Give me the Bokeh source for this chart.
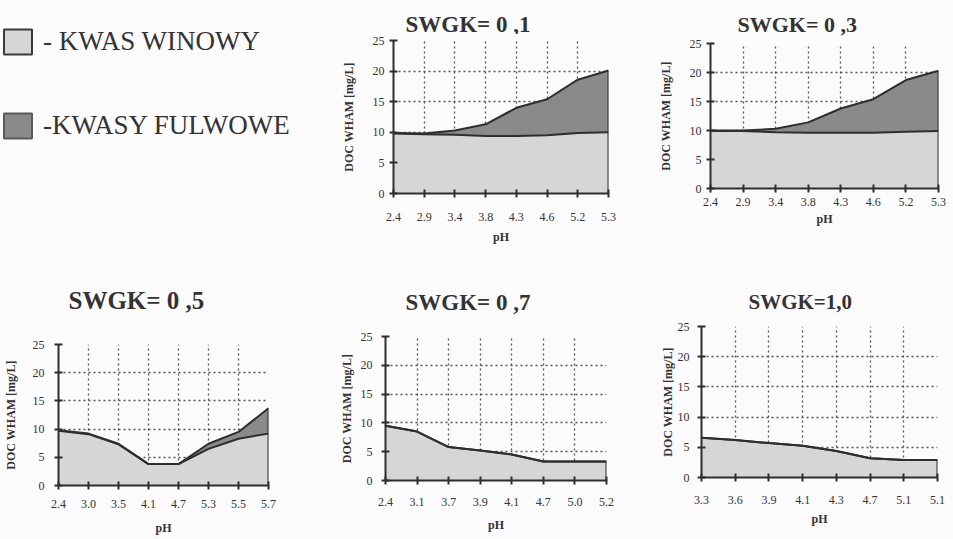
from bokeh.plotting import figure
from bokeh.models import Range1d, FixedTicker, Legend, LegendItem, ColumnDataSource, Label
from bokeh.layouts import row, column
from bokeh.embed import file_html
from bokeh.resources import INLINE

# ---------------- data ----------------
series_names = ["- KWAS WINOWY", "-KWASY FULWOWE"]

titles = ["SWGK= 0 ,1", "SWGK= 0 ,3", "SWGK= 0 ,5", "SWGK= 0 ,7", "SWGK=1,0"]

ph_01 = ["2.4", "2.9", "3.4", "3.8", "4.3", "4.6", "5.2", "5.3"]
winowy_01 = [9.8, 9.7, 9.6, 9.4, 9.4, 9.5, 9.9, 10.0]
fulwowe_01 = [0.1, 0.1, 0.7, 1.9, 4.6, 5.9, 8.7, 10.1]

ph_03 = ["2.4", "2.9", "3.4", "3.8", "4.3", "4.6", "5.2", "5.3"]
winowy_03 = [9.9, 9.9, 9.7, 9.6, 9.6, 9.6, 9.8, 9.9]
fulwowe_03 = [0.1, 0.1, 0.6, 1.8, 4.2, 5.8, 8.9, 10.4]

ph_05 = ["2.4", "3.0", "3.5", "4.1", "4.7", "5.3", "5.5", "5.7"]
winowy_05 = [9.7, 9.1, 7.3, 3.8, 3.8, 6.5, 8.3, 9.2]
fulwowe_05 = [0.1, 0.1, 0.1, 0.0, 0.0, 0.9, 1.2, 4.5]

ph_07 = ["2.4", "3.1", "3.7", "3.9", "4.1", "4.7", "5.0", "5.2"]
winowy_07 = [9.5, 8.5, 5.8, 5.2, 4.5, 3.3, 3.3, 3.3]
fulwowe_07 = [0.0, 0.0, 0.0, 0.0, 0.0, 0.0, 0.0, 0.0]

ph_10 = ["3.3", "3.6", "3.9", "4.1", "4.3", "4.7", "5.1", "5.1"]
winowy_10 = [6.6, 6.2, 5.7, 5.25, 4.4, 3.2, 2.9, 2.9]
fulwowe_10 = [0.0, 0.0, 0.0, 0.0, 0.0, 0.0, 0.0, 0.0]

y_ticks = [0, 5, 10, 15, 20, 25]
y_label = "DOC WHAM [mg/L]"
x_label = "pH"

# ---------------- style ----------------
BG = "#fbfbfb"
LIGHT = "#d6d6d6"
DARK = "#8a8a8a"
INK = "#2e2e2e"
TXT = "#333333"
SERIF = "Liberation Serif"
GAP = 6  # border kept above each chart frame


def base_fig(w, h, xr, yr, bl, br, bt, bb, axes=True):
    kw = {}
    if not axes:
        kw = dict(x_axis_location=None, y_axis_location=None)
    p = figure(width=w, height=h, x_range=xr, y_range=yr, title=None,
               min_border_left=bl, min_border_right=br, min_border_top=bt,
               min_border_bottom=bb, output_backend="svg", toolbar_location=None,
               background_fill_color=BG, border_fill_color=BG, **kw)
    p.outline_line_color = None
    if not axes:
        p.grid.visible = False
    return p


def make_title(title, n, w, th, bl, br, t_off, t_base, t_size):
    p = base_fig(w, th, Range1d(0, n - 1), Range1d(0, 1), bl, br, 0, 0, axes=False)
    p.add_layout(Label(x=0, y=0, x_offset=t_off, y_offset=th - t_base,
                       text=title, text_font=SERIF, text_font_size=t_size,
                       text_font_style="bold", text_color=TXT,
                       text_align="left", text_baseline="alphabetic"))
    return p


def make_chart(title, labels, win, ful, w, h, bl, br, bt, bb,
               t_off, t_base, t_size, lab_stand, xl_stand, ylab_stand, yl_stand):
    n = len(labels)
    xs = list(range(n))
    th = bt - GAP
    tp = make_title(title, n, w, th, bl, br, t_off, t_base, t_size)
    p = base_fig(w, h - th, Range1d(0, n - 1), Range1d(0, 25), bl, br, GAP, bb)

    src = ColumnDataSource(dict(x=xs, win=win, ful=ful))
    p.varea_stack(["win", "ful"], x="x", color=[LIGHT, DARK], source=src)
    p.vline_stack(["win", "ful"], x="x", color=INK, line_width=2, source=src)
    tops = [a + b for a, b in zip(win, ful)]
    edge = ColumnDataSource(dict(x0=[xs[-1]], y0=[0], y1=[tops[-1]]))
    p.segment(x0="x0", y0="y0", x1="x0", y1="y1", source=edge, color=INK, line_width=2)

    p.xaxis.ticker = FixedTicker(ticks=xs)
    p.xaxis.major_label_overrides = {i: lab for i, lab in enumerate(labels)}
    p.yaxis.ticker = FixedTicker(ticks=y_ticks)
    p.xaxis.axis_label = x_label
    p.yaxis.axis_label = y_label

    for ax in (p.xaxis, p.yaxis):
        ax.axis_line_color = INK
        ax.axis_line_width = 2
        ax.major_tick_line_color = INK
        ax.major_tick_line_width = 2
        ax.major_tick_in = 4
        ax.major_tick_out = 4
        ax.minor_tick_line_color = None
        ax.major_label_text_font = SERIF
        ax.major_label_text_font_size = "12px"
        ax.major_label_text_color = TXT
        ax.axis_label_text_font = SERIF
        ax.axis_label_text_font_size = "12px"
        ax.axis_label_text_font_style = "bold"
        ax.axis_label_text_color = TXT
    p.xaxis.major_label_standoff = lab_stand
    p.yaxis.major_label_standoff = ylab_stand
    p.xaxis.axis_label_standoff = xl_stand
    p.yaxis.axis_label_standoff = yl_stand

    p.grid.grid_line_color = "#555555"
    p.grid.grid_line_dash = "2 3"
    p.grid.grid_line_width = 1.3
    return column(column(tp), column(p), spacing=0)


def make_legend():
    p = base_fig(320, 270, Range1d(0, 1), Range1d(0, 1), 0, 0, 26, 0, axes=False)
    nan = float("nan")
    dummy = ColumnDataSource(dict(l=[nan], r=[nan], t=[nan], b=[nan]))
    r1 = p.quad(left="l", right="r", top="t", bottom="b", source=dummy,
                fill_color=LIGHT, line_color="#3a3a3a", line_width=2)
    r2 = p.quad(left="l", right="r", top="t", bottom="b", source=dummy,
                fill_color=DARK, line_color="#5a5a5a", line_width=2)
    leg = Legend(items=[LegendItem(label=series_names[0], renderers=[r1]),
                        LegendItem(label=series_names[1], renderers=[r2])],
                 location="top_left", orientation="vertical",
                 glyph_width=35, glyph_height=31, label_standoff=8, spacing=53,
                 padding=0, margin=0, border_line_color=None,
                 background_fill_alpha=0, label_text_font=SERIF,
                 label_text_font_size="27px", label_text_color=TXT)
    p.add_layout(leg)
    return p


leg = make_legend()
c1 = make_chart(titles[0], ph_01, winowy_01, fulwowe_01, 320, 270, 73, 32, 40, 77,
                12, 24, "23px", 15, 6, 5, 14)
c2 = make_chart(titles[1], ph_03, winowy_03, fulwowe_03, 313, 270, 70, 15, 43, 82,
                27, 24, "22px", 5, 3, 5, 14)
c3 = make_chart(titles[2], ph_05, winowy_05, fulwowe_05, 320, 269, 57, 52, 74, 54,
                11, 30, "25px", 10, 10, 10, 12)
c4 = make_chart(titles[3], ph_07, winowy_07, fulwowe_07, 320, 269, 65, 34, 66, 59,
                20, 32, "23px", 13, 9, 9, 4)
c5 = make_chart(titles[4], ph_10, winowy_10, fulwowe_10, 313, 269, 61, 16, 56, 62,
                47, 31, "21px", 14, 5, 8, 0)

top_row = row(column(leg), c1, c2, spacing=0)
bottom_row = row(c3, c4, c5, spacing=0)
layout = column(top_row, bottom_row, spacing=0)
open("out.html", "w").write(file_html(layout, INLINE))
